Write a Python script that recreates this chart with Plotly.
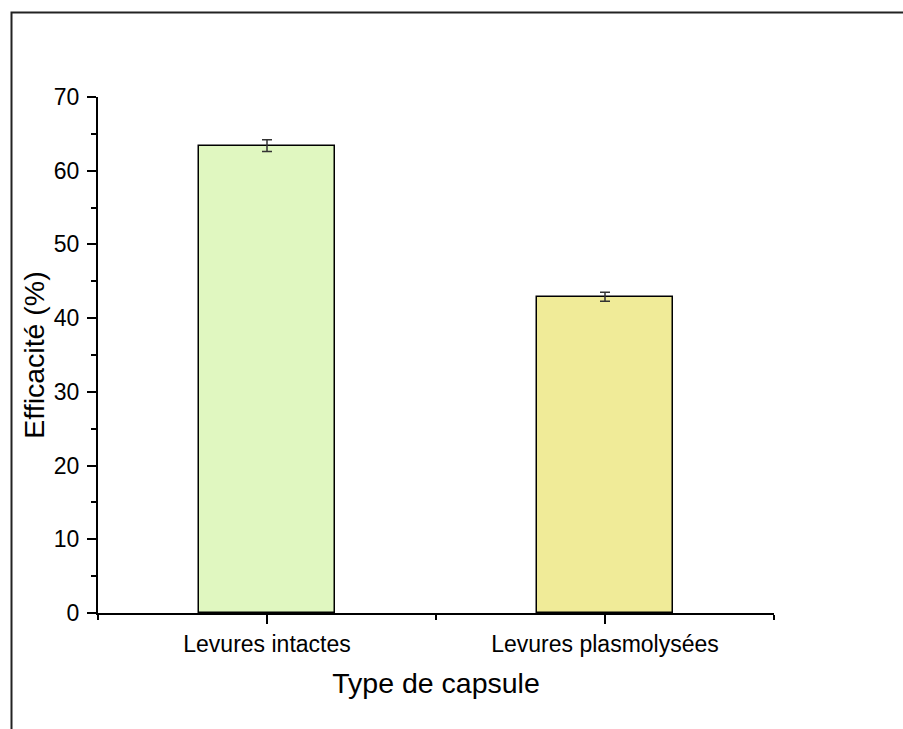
import plotly.graph_objects as go

categories = ["Levures intactes", "Levures plasmolysées"]
values = [63.4, 42.9]
errors = [0.8, 0.6]
bar_colors = ["#E0F7C0", "#F0EB98"]
x_title = "Type de capsule"
y_title = "Efficacité (%)"

xpos = list(range(len(categories)))

fig = go.Figure()
fig.add_trace(go.Bar(
    x=xpos, y=values, width=0.4,
    marker=dict(color=bar_colors, line=dict(color="black", width=1.5)),
    error_y=dict(type="data", array=errors, visible=True, color="#333333",
                 thickness=1.5, width=5),
    showlegend=False,
))

FONT = "Liberation Sans, Arial, sans-serif"
L, R, T, B = 98, 129, 97, 116
W, H = 903, 729
pw, ph = W - L - R, H - T - B

def px2x(px):
    return (px - L) / pw

def py2y(py):
    return (H - B - py) / ph

fig.add_shape(type="rect", xref="paper", yref="paper",
              x0=px2x(11.5), x1=px2x(915), y0=py2y(745), y1=py2y(12.5),
              line=dict(color="#222222", width=2), fillcolor="rgba(0,0,0,0)",
              layer="below")

fig.update_layout(
    width=W, height=H,
    margin=dict(l=L, r=R, t=T, b=B),
    paper_bgcolor="white", plot_bgcolor="white",
    font=dict(family=FONT, color="black", size=23),
    bargap=0,
    xaxis=dict(
        range=[-0.5, 1.5], tickmode="array", tickvals=xpos, ticktext=categories,
        showline=True, linecolor="black", linewidth=2, mirror=False,
        ticks="outside", ticklen=9, tickwidth=2, tickcolor="black",
        showgrid=False, zeroline=False,
        tickfont=dict(size=23, family=FONT),
        minor=dict(tick0=-0.5, dtick=0.5, ticks="outside", ticklen=5,
                   tickwidth=2, tickcolor="black", showgrid=False),
        title=dict(text=x_title, font=dict(size=28.5, family=FONT), standoff=17),
    ),
    yaxis=dict(
        range=[0, 70], tick0=0, dtick=10,
        showline=True, linecolor="black", linewidth=2,
        ticks="outside", ticklen=9, tickwidth=2, tickcolor="black",
        showgrid=False, zeroline=False, ticklabelstandoff=3,
        tickfont=dict(size=23, family=FONT),
        minor=dict(tick0=0, dtick=5, ticks="outside", ticklen=5,
                   tickwidth=2, tickcolor="black", showgrid=False),
        title=dict(text=y_title, font=dict(size=28.5, family=FONT), standoff=1),
    ),
)

fig.write_html("out.html")
